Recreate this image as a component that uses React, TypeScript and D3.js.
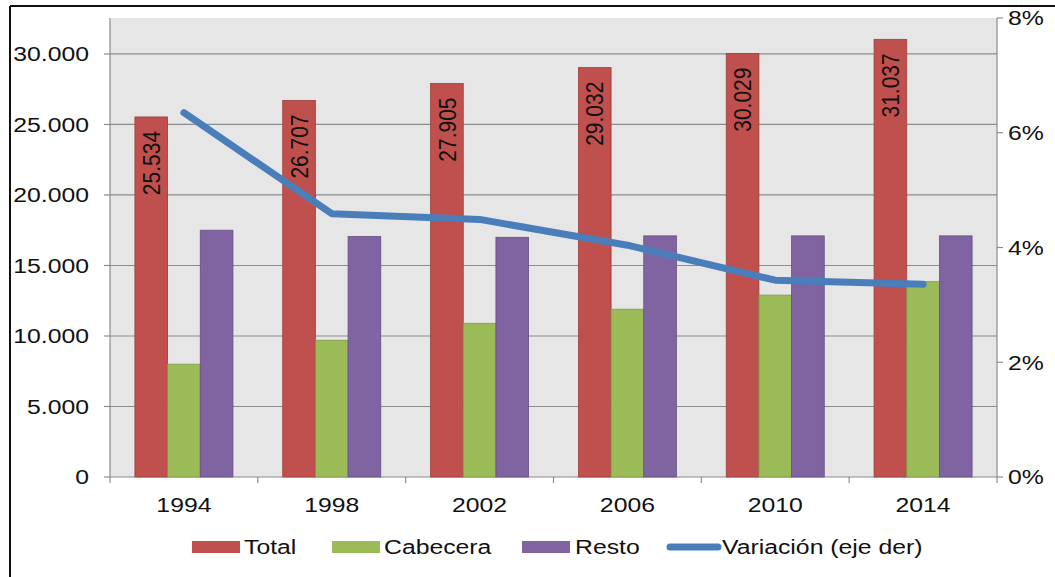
import { useMemo } from 'react';
import { scaleBand, scaleLinear, line as d3line } from 'd3';

const YEARS = ['1994', '1998', '2002', '2006', '2010', '2014'];
const TOTAL = [25534, 26707, 27905, 29032, 30029, 31037];
const CABECERA = [8000, 9700, 10900, 11900, 12900, 13850];
const RESTO = [17500, 17050, 17000, 17100, 17100, 17100];
const VARIACION = [0.0635, 0.0459, 0.0449, 0.0404, 0.0343, 0.0336];
const LEFT_TICKS = [0, 5000, 10000, 15000, 20000, 25000, 30000];
const RIGHT_TICKS = [0, 0.02, 0.04, 0.06, 0.08];

const SERIES = [
  { key: 'Total', values: TOTAL, fill: '#c0504d', stroke: '#9c3f3c' },
  { key: 'Cabecera', values: CABECERA, fill: '#9bbb59', stroke: '#7e9a48' },
  { key: 'Resto', values: RESTO, fill: '#8064a2', stroke: '#654f82' },
];
const LINE_COLOR = '#4a7ebb';

const W = 1055;
const H = 577;
const P = { left: 110, right: 997, top: 18, bottom: 477 };
const FONT = 'Liberation Sans, Arial, sans-serif';
const FS = 21;
const SX = 1.18; // the source picture is stretched horizontally

const fmt = (n: number) => String(n).replace(/\B(?=(\d{3})+(?!\d))/g, '.');

function Txt({ x, y, anchor = 'start', rotate = 0, children }: any) {
  return (
    <text
      transform={`translate(${x},${y}) scale(${SX},1) rotate(${rotate})`}
      textAnchor={anchor}
      dominantBaseline="central"
      fontFamily={FONT}
      fontSize={FS}
      fill="#111"
    >
      {children}
    </text>
  );
}

export default function App() {
  const { x0, x1, yL, yR, path } = useMemo(() => {
    const x0 = scaleBand<string>()
      .domain(YEARS)
      .range([P.left, P.right])
      .paddingInner(0.337)
      .paddingOuter(0.1685);
    const x1 = scaleBand<string>()
      .domain(SERIES.map((s) => s.key))
      .range([0, x0.bandwidth()]);
    const yL = scaleLinear().domain([0, 32550]).range([P.bottom, P.top]);
    const yR = scaleLinear().domain([0, 0.08]).range([P.bottom, P.top]);
    const path =
      d3line<number>()
        .x((_, i) => (x0(YEARS[i]) ?? 0) + x0.bandwidth() / 2)
        .y((d) => yR(d))(VARIACION) ?? '';
    return { x0, x1, yL, yR, path };
  }, []);

  const step = x0.step();
  const legendY = 547;

  return (
    <svg
      width={W}
      height={H}
      style={{ position: 'absolute', left: 0, top: 0, background: '#fff' }}
    >
      {/* outer frame, only top and left edges are visible */}
      <line x1={10} y1={6} x2={W} y2={6} stroke="#111" strokeWidth={2} />
      <line x1={10} y1={6} x2={10} y2={H} stroke="#111" strokeWidth={2} />

      <rect
        x={P.left}
        y={P.top}
        width={P.right - P.left}
        height={P.bottom - P.top}
        fill="#e6e6e6"
      />
      {LEFT_TICKS.filter((t) => t > 0).map((t) => (
        <line key={t} x1={P.left} x2={P.right} y1={yL(t)} y2={yL(t)} stroke="#8c8c8c" strokeWidth={1.2} />
      ))}

      {/* axes */}
      <line x1={P.left} x2={P.left} y1={P.top} y2={P.bottom} stroke="#8c8c8c" strokeWidth={1.2} />
      <line x1={P.right} x2={P.right} y1={P.top} y2={P.bottom} stroke="#8c8c8c" strokeWidth={1.2} />
      <line x1={P.left} x2={P.right} y1={P.bottom} y2={P.bottom} stroke="#8c8c8c" strokeWidth={1.2} />
      {LEFT_TICKS.map((t) => (
        <g key={t}>
          <line x1={P.left - 6} x2={P.left} y1={yL(t)} y2={yL(t)} stroke="#8c8c8c" strokeWidth={1.2} />
          <Txt x={89} y={yL(t)} anchor="end">
            {fmt(t)}
          </Txt>
        </g>
      ))}
      {RIGHT_TICKS.map((t) => (
        <g key={t}>
          <line x1={P.right} x2={P.right + 6} y1={yR(t)} y2={yR(t)} stroke="#8c8c8c" strokeWidth={1.2} />
          <Txt x={1008} y={yR(t)}>
            {`${Math.round(t * 100)}%`}
          </Txt>
        </g>
      ))}
      {YEARS.map((yr, i) => (
        <g key={yr}>
          <line
            x1={P.left + step * i}
            x2={P.left + step * i}
            y1={P.bottom}
            y2={P.bottom + 6}
            stroke="#8c8c8c"
            strokeWidth={1.2}
          />
          <Txt x={(x0(yr) ?? 0) + x0.bandwidth() / 2} y={505} anchor="middle">
            {yr}
          </Txt>
        </g>
      ))}
      <line x1={P.right} x2={P.right} y1={P.bottom} y2={P.bottom + 6} stroke="#8c8c8c" strokeWidth={1.2} />

      {/* bars */}
      {SERIES.map((s) =>
        s.values.map((v, i) => (
          <rect
            key={s.key + i}
            x={(x0(YEARS[i]) ?? 0) + (x1(s.key) ?? 0)}
            y={yL(v)}
            width={x1.bandwidth()}
            height={P.bottom - yL(v)}
            fill={s.fill}
            stroke={s.stroke}
            strokeWidth={0.8}
          />
        ))
      )}

      {/* value labels inside the Total bars */}
      {TOTAL.map((v, i) => (
        <Txt
          key={i}
          x={(x0(YEARS[i]) ?? 0) + (x1('Total') ?? 0) + x1.bandwidth() / 2}
          y={yL(v) + 14}
          anchor="end"
          rotate={-90}
        >
          {fmt(v)}
        </Txt>
      ))}

      <path
        d={path}
        fill="none"
        stroke={LINE_COLOR}
        strokeWidth={7}
        strokeLinecap="round"
        strokeLinejoin="round"
      />

      {/* legend */}
      <rect x={192} y={legendY - 6} width={48} height={12} fill={SERIES[0].fill} />
      <Txt x={244} y={legendY}>Total</Txt>
      <rect x={332} y={legendY - 6} width={48} height={12} fill={SERIES[1].fill} />
      <Txt x={384} y={legendY}>Cabecera</Txt>
      <rect x={522} y={legendY - 6} width={48} height={12} fill={SERIES[2].fill} />
      <Txt x={575} y={legendY}>Resto</Txt>
      <line x1={670} x2={718} y1={legendY} y2={legendY} stroke={LINE_COLOR} strokeWidth={7} strokeLinecap="round" />
      <Txt x={722} y={legendY}>Variación (eje der)</Txt>
    </svg>
  );
}
